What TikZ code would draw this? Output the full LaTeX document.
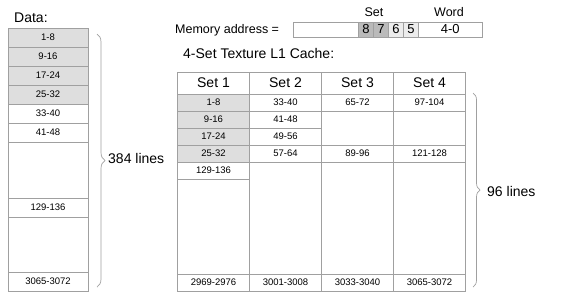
\documentclass[tikz,border=0pt]{standalone}
\usepackage{fontspec}
\setmainfont{Liberation Sans}
\usetikzlibrary{decorations.pathreplacing}

\definecolor{linegray}{RGB}{160,160,160}
\definecolor{shadegray}{RGB}{222,222,222}
\definecolor{bitdark}{RGB}{186,186,186}
\definecolor{bitlight}{RGB}{236,236,236}

\begin{document}
\begin{tikzpicture}[x=1pt, y=-1pt,
    cell/.style={draw=linegray, line width=0.7pt, inner sep=0pt, outer sep=0pt,
                 minimum width=80pt, minimum height=19pt,
                 font=\fontsize{9.5}{11}\selectfont, text centered},
    setcell/.style={cell, minimum width=72pt, minimum height=17pt},
    sethead/.style={cell, minimum width=72pt, minimum height=22pt,
                    font=\fontsize{14}{16}\selectfont},
    bitcell/.style={cell, minimum width=15pt, minimum height=15pt,
                    font=\fontsize{13}{15}\selectfont},
    label/.style={font=\fontsize{14}{16}\selectfont, inner sep=0pt},
    small/.style={font=\fontsize{12.5}{15}\selectfont, inner sep=0pt},
    bracket/.style={draw=linegray, line width=0.7pt,
                    decorate, decoration={brace, amplitude=8pt}}
  ]
  \useasboundingbox (0,0) rectangle (564,293);

  % data lines
  \node[label, anchor=west] (datatitle) at (14, 18) {Data:};
  \node[cell, fill=shadegray] (d1) at (48, 37.5) {1-8};
  \node[cell, fill=shadegray] (d2) at (48, 56.5) {9-16};
  \node[cell, fill=shadegray] (d3) at (48, 75.5) {17-24};
  \node[cell, fill=shadegray] (d4) at (48, 94.5) {25-32};
  \node[cell] (d5) at (48, 113.5) {33-40};
  \node[cell] (d6) at (48, 132.5) {41-48};
  \node[cell, minimum height=56pt] (d7) at (48, 170) {};
  \node[cell] (d8) at (48, 207.5) {129-136};
  \node[cell, minimum height=55pt] (d9) at (48, 244.5) {};
  \node[cell] (d10) at (48, 281.5) {3065-3072};

  \coordinate (ltop) at (97, 34);
  \coordinate (lbot) at (97, 287);
  \draw[bracket] (ltop) -- (lbot);
  \node[label, anchor=west] (dlines) at (108, 158) {384 lines};

  % address
  \node[small, anchor=west] (addrtext) at (175, 30) {Memory address =};
  \node[bitcell, minimum width=65pt] (tag) at (326, 29.5) {};
  \node[bitcell, fill=bitdark] (b8) at (366, 29.5) {8};
  \node[bitcell, fill=bitdark] (b7) at (381, 29.5) {7};
  \node[bitcell, fill=bitlight] (b6) at (396, 29.5) {6};
  \node[bitcell, fill=bitlight] (b5) at (411, 29.5) {5};
  \node[bitcell, minimum width=63.5pt] (word) at (450.25, 29.5) {4-0};
  \node[small] (setlbl) at (374, 12) {Set};
  \node[small] (wordlbl) at (449, 12) {Word};

  % cache
  \node[label, anchor=west] (cachetitle) at (183, 53) {4-Set Texture L1 Cache:};
  \foreach \cx in {177.5, 249.5, 321.5, 393.5}
    \draw[linegray, line width=0.7pt] (\cx, 72) rectangle ++(72, 219);

  \node[sethead] (h1) at (213.5, 83) {Set 1};
  \node[sethead] (h2) at (285.5, 83) {Set 2};
  \node[sethead] (h3) at (357.5, 83) {Set 3};
  \node[sethead] (h4) at (429.5, 83) {Set 4};

  \node[setcell, fill=shadegray] (s1a) at (213.5, 102.5) {1-8};
  \node[setcell, fill=shadegray] (s1b) at (213.5, 119.5) {9-16};
  \node[setcell, fill=shadegray] (s1c) at (213.5, 136.5) {17-24};
  \node[setcell, fill=shadegray] (s1d) at (213.5, 153.5) {25-32};
  \node[setcell] (s1e) at (213.5, 170.5) {129-136};

  \node[setcell] (s2a) at (285.5, 102.5) {33-40};
  \node[setcell] (s2b) at (285.5, 119.5) {41-48};
  \node[setcell] (s2c) at (285.5, 136.5) {49-56};
  \node[setcell] (s2d) at (285.5, 153.5) {57-64};

  \node[setcell] (s3a) at (357.5, 102.5) {65-72};
  \node[setcell] (s3d) at (357.5, 153.5) {89-96};

  \node[setcell] (s4a) at (429.5, 102.5) {97-104};
  \node[setcell] (s4d) at (429.5, 153.5) {121-128};

  \node[setcell] (s1z) at (213.5, 282.5) {2969-2976};
  \node[setcell] (s2z) at (285.5, 282.5) {3001-3008};
  \node[setcell] (s3z) at (357.5, 282.5) {3033-3040};
  \node[setcell] (s4z) at (429.5, 282.5) {3065-3072};

  \coordinate (rtop) at (473, 93);
  \coordinate (rbot) at (473, 287);
  \draw[bracket, decoration={brace, amplitude=7pt}] (rtop) -- (rbot);
  \node[label, anchor=west] (clines) at (487, 191) {96 lines};
\end{tikzpicture}
\end{document}
